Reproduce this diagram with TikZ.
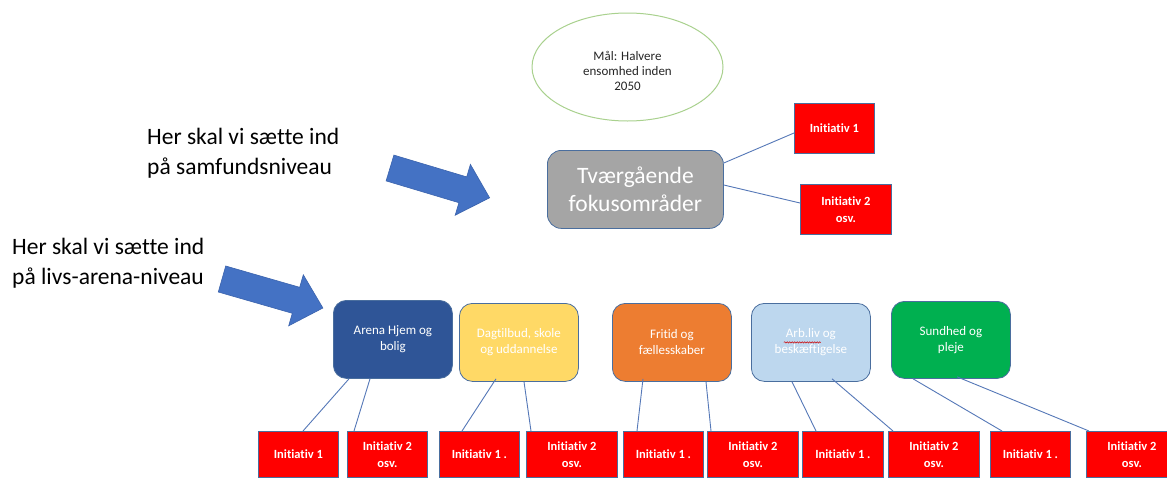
\documentclass[tikz,border=0pt]{standalone}
\usepackage{fontspec}
\setmainfont{Carlito}[Ligatures={NoCommon}]
\usetikzlibrary{shapes.geometric,decorations.pathmorphing}
\definecolor{arrowfill}{HTML}{4472C4}
\definecolor{arrowdraw}{HTML}{3B63AD}
\definecolor{connc}{HTML}{5578B8}
\definecolor{boxedge}{HTML}{4A6E9E}
\definecolor{ellgreen}{HTML}{A9D18E}
\definecolor{greyfill}{HTML}{A5A5A5}
\definecolor{darkblue}{HTML}{2F5597}
\definecolor{yellowf}{HTML}{FFD966}
\definecolor{orangef}{HTML}{ED7D31}
\definecolor{lightbluef}{HTML}{BDD7EE}
\definecolor{greenf}{HTML}{00B050}
\definecolor{inired}{HTML}{FF0000}
\begin{document}
\begin{tikzpicture}[x=1pt,y=-1pt,
  arenabox/.style={rectangle, rounded corners=13pt, draw=boxedge, line width=0.8pt,
    minimum width=119pt, minimum height=78pt, inner sep=2pt, anchor=north west,
    align=center, text=white, font=\fontsize{13}{16}\selectfont},
  inibox/.style={rectangle, fill=inired, draw=boxedge, line width=0.8pt,
    minimum height=#1, inner sep=0pt, anchor=north west, align=center,
    text=white, font=\bfseries\fontsize{12.5}{17}\selectfont},
  inibox/.default=46pt,
  conn/.style={draw=connc, line width=0.9pt},
  bigarrow/.style={fill=arrowfill, draw=arrowdraw, line width=0.6pt},
  lefttext/.style={anchor=north west, align=left, inner sep=0pt, font=\fontsize{23.5}{29.5}\selectfont}
]
\useasboundingbox (0,0) rectangle (1167,477);
\fill[white] (0,0) rectangle (1167,477);

% goal ellipse
\node[ellipse, draw=ellgreen, line width=1pt, minimum width=191pt, minimum height=108pt,
  inner sep=0pt] (goal) at (627.5,67) {};
\node[inner sep=0pt, align=center, text=black!85, font=\fontsize{13}{14.8}\selectfont]
  (goaltext) at (627.5,71) {Mål: Halvere\\ensomhed inden\\2050};

% left texts
\node[lefttext] (t1) at (147,128) {Her skal vi sætte ind\\på samfundsniveau};
\node[lefttext] (t2) at (12,238) {Her skal vi sætte ind\\på livs-arena-niveau};

% block arrows
\draw[bigarrow] (393.9,155.1) -- (466.7,176.9) -- (470.4,164.4) -- (489.6,197.8)
  -- (455.2,215.2) -- (458.9,202.7) -- (386.1,180.9) -- cycle;
\draw[bigarrow] (225.7,266.0) -- (299.7,287.3) -- (303.3,274.8) -- (322.9,308.0)
  -- (288.7,325.8) -- (292.3,313.3) -- (218.3,292.0) -- cycle;

% focus box
\node[rectangle, rounded corners=14pt, draw=boxedge, line width=0.8pt, fill=greyfill,
  minimum width=176pt, minimum height=78pt, inner sep=2pt, anchor=north west,
  align=center, text=white, font=\fontsize{23.5}{28}\selectfont]
  (focus) at (547,150) {Tværgående\\fokusområder};

\node[inibox=50pt, minimum width=80pt] (ft1) at (794,103) {Initiativ 1};
\node[inibox=50pt, minimum width=91pt] (ft2) at (800,184) {Initiativ 2\\osv.};

\draw[conn] ([yshift=-13pt]focus.north east) -- ([yshift=-30pt]ft1.north west);
\draw[conn] ([yshift=-35pt]focus.north east) -- ([yshift=-19pt]ft2.north west);

% arena boxes
\node[arenabox, fill=darkblue] (arena) at (333,300) {Arena Hjem og\\bolig};
\node[arenabox, fill=yellowf] (dag) at (459,303) {Dagtilbud, skole\\og uddannelse};
\node[arenabox, fill=orangef] (fritid) at (612,303) {Fritid og\\fællesskaber};
\node[arenabox, fill=lightbluef] (arb) at (751,303) {Arb.liv og\\beskæftigelse};
\node[arenabox, fill=greenf, minimum height=77pt] (sund) at (891,301) {Sundhed og\\pleje};

% spell-check squiggle under Arb.liv
\draw[red!80!black, line width=0.5pt, decorate,
  decoration={snake, amplitude=0.7pt, segment length=2.5pt}]
  ([shift={(-27,0)}]arb.center) -- ([shift={(10,0)}]arb.center);

% bottom initiative boxes
\node[inibox, minimum width=80pt] (a1) at (258,431) {Initiativ 1};
\node[inibox, minimum width=80pt] (a2) at (347,431) {Initiativ 2\\osv.};
\node[inibox, minimum width=80pt] (d1) at (439,431) {Initiativ 1 .};
\node[inibox, minimum width=91pt] (d2) at (526,431) {Initiativ 2\\osv.};
\node[inibox, minimum width=80pt] (f1) at (623,431) {Initiativ 1 .};
\node[inibox, minimum width=91pt] (f2) at (707,431) {Initiativ 2\\osv.};
\node[inibox, minimum width=81pt] (b1) at (802,431) {Initiativ 1 .};
\node[inibox, minimum width=91pt] (b2) at (888,431) {Initiativ 2\\osv.};
\node[inibox, minimum width=80pt] (s1) at (990,431) {Initiativ 1 .};
\node[inibox, minimum width=91pt] (s2) at (1086,431) {Initiativ 2\\osv.};

% bottom connectors
\draw[conn] ([xshift=16pt]arena.south west) -- ([xshift=45pt]a1.north west);
\draw[conn] ([xshift=37pt]arena.south west) -- ([xshift=7pt]a2.north west);
\draw[conn] ([xshift=37pt,yshift=3pt]dag.south west) -- ([xshift=23pt]d1.north west);
\draw[conn] ([xshift=65pt]dag.south west) -- ([xshift=5pt]d2.north west);
\draw[conn] ([xshift=31pt,yshift=3pt]fritid.south west) -- ([xshift=14pt]f1.north west);
\draw[conn] ([xshift=94pt]fritid.south west) -- ([xshift=4pt]f2.north west);
\draw[conn] ([xshift=41pt]arb.south west) -- ([xshift=14pt]b1.north west);
\draw[conn] ([xshift=81pt,yshift=3pt]arb.south west) -- ([xshift=5pt]b2.north west);
\draw[conn] ([xshift=22pt]sund.south west) -- ([xshift=12pt]s1.north west);
\draw[conn] ([xshift=66pt,yshift=2pt]sund.south west) -- ([xshift=3pt]s2.north west);
\end{tikzpicture}
\end{document}
